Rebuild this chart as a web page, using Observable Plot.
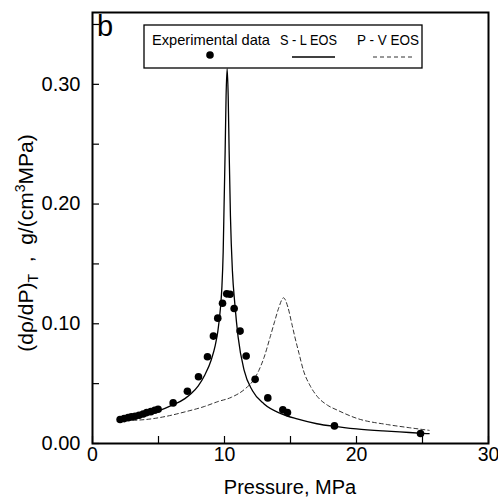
<!DOCTYPE html>
<html><head><meta charset="utf-8">
<script src="https://cdn.jsdelivr.net/npm/d3@7"></script>
<script src="https://cdn.jsdelivr.net/npm/@observablehq/plot@0.6"></script>
<style>body{margin:0;background:#fff} svg{font-family:"Liberation Sans",Arial,sans-serif}</style>
</head><body><div id="chart"></div>
<script>
// Experimental data
const expP = [2.09,2.40,2.70,2.95,3.23,3.53,3.84,4.11,4.42,4.72,4.97,6.11,7.19,8.03,8.71,9.16,9.49,9.85,10.17,10.42,10.73,11.18,11.64,12.32,13.28,14.42,14.77,18.33,24.85];
const expD = [0.0200,0.0208,0.0216,0.0222,0.0228,0.0236,0.0247,0.0258,0.0266,0.0278,0.0286,0.0339,0.0436,0.0558,0.0725,0.0897,0.1047,0.1172,0.1250,0.1247,0.1128,0.0939,0.0731,0.0536,0.0381,0.0281,0.0258,0.0147,0.0083];
// S - L EOS (solid)
const slP = [2.0,3.0,4.0,5.0,6.0,7.0,7.5,8.0,8.5,9.0,9.3,9.5,9.7,9.8,9.9,9.97,10.05,10.12,10.2,10.28,10.35,10.45,10.6,10.78,11.03,11.49,12.12,13.0,14.27,15.5,17.0,18.3,20.0,22.0,24.0,25.5];
const slD = [0.0195,0.0215,0.024,0.0272,0.0318,0.0375,0.042,0.048,0.057,0.070,0.082,0.094,0.114,0.13,0.16,0.20,0.245,0.29,0.313,0.29,0.245,0.19,0.144,0.117,0.089,0.061,0.044,0.033,0.025,0.0205,0.0165,0.0143,0.0122,0.0105,0.0092,0.0082];
// P - V EOS (dashed)
const pvP = [2.0,4.0,5.5,7.0,8.5,9.5,10.5,11.6,12.2,12.6,13.0,13.46,13.8,14.1,14.47,14.8,15.1,15.33,15.65,15.98,16.5,17.05,17.8,18.56,20.08,22.35,24.0,25.5];
const pvD = [0.019,0.020,0.0225,0.0264,0.031,0.035,0.0385,0.046,0.053,0.061,0.072,0.089,0.102,0.113,0.1217,0.114,0.100,0.089,0.075,0.061,0.048,0.039,0.032,0.0278,0.0208,0.0158,0.0132,0.011];
// ticks
const xTickLabels = [0,10,20,30];
const xTicks = [0,5,10,15,20,25,30];
const yTickLabels = [0,0.1,0.2,0.3];
const yTicks = [0,0.05,0.1,0.15,0.2,0.25,0.3,0.35];

const exp = expP.map((p,i)=>({p, d:expD[i]}));
const sl = slP.map((p,i)=>({p, d:slD[i]}));
const pv = pvP.map((p,i)=>({p, d:pvD[i]}));

const W=498,H=499,mL=92,mR=10,mT=12,mB=56;
const fw=W-mL-mR, fh=H-mT-mB, tk=7;

const chart = Plot.plot({
  width:W, height:H, marginLeft:mL, marginRight:mR, marginTop:mT, marginBottom:mB,
  style:{fontFamily:"Liberation Sans, Arial, sans-serif", fontSize:"20px", color:"#000", background:"#fff"},
  x:{domain:[0,30]}, y:{domain:[0,0.36]},
  marks:[
    Plot.tickX(xTicks,{x:d=>d, insetTop:fh-tk, stroke:"#000", strokeWidth:1.2}),
    Plot.tickY(yTicks,{y:d=>d, insetRight:fw-tk, stroke:"#000", strokeWidth:1.2}),
    Plot.axisX(xTickLabels,{tickSize:0, tickPadding:4, tickFormat:d=>String(d), label:null, fontSize:19.5}),
    Plot.axisY(yTickLabels,{tickSize:0, tickPadding:12, tickFormat:d3.format(".2f"), label:null, fontSize:20}),
    Plot.line(pv,{x:"p", y:"d", stroke:"#333", strokeWidth:1, strokeDasharray:"4,3", curve:"monotone-x"}),
    Plot.line(sl,{x:"p", y:"d", stroke:"#000", strokeWidth:1.3, curve:"monotone-x"}),
    Plot.dot(exp,{x:"p", y:"d", r:3.8, fill:"#000", stroke:"none"}),
    Plot.frame({stroke:"#000", strokeWidth:2})
  ]
});
document.getElementById("chart").appendChild(chart);

const svg = d3.select(chart);
const ff = "Liberation Sans, Arial, sans-serif";
// panel letter
svg.append("text").attr("x",97).attr("y",36).attr("text-anchor","start").attr("font-size",29).attr("font-family",ff).text("b");
// x title
svg.append("text").attr("x",mL+fw/2).attr("y",494).attr("text-anchor","middle").attr("font-size",20).attr("font-family",ff).text("Pressure, MPa");
// y title
const yt = svg.append("text").attr("transform","translate(33,243) rotate(-90)").attr("text-anchor","middle").attr("font-size",21).attr("font-family",ff);
yt.append("tspan").text("(dρ/dP)");
yt.append("tspan").attr("font-size",14).attr("dy",5).text("T");
yt.append("tspan").attr("dy",-5).text("  ,  g/(cm");
yt.append("tspan").attr("font-size",14).attr("dy",-8).text("3");
yt.append("tspan").attr("dy",8).text("MPa)");
// legend
const lg = svg.append("g").attr("font-family",ff).attr("font-size",14.5).attr("text-anchor","start");
lg.append("rect").attr("x",144).attr("y",25).attr("width",278).attr("height",43).attr("fill","#fff").attr("stroke","#000").attr("stroke-width",1.3);
lg.append("text").attr("x",152).attr("y",45).attr("textLength",118).attr("lengthAdjust","spacingAndGlyphs").text("Experimental data");
lg.append("text").attr("x",280).attr("y",45).attr("textLength",57).attr("lengthAdjust","spacingAndGlyphs").text("S - L EOS");
lg.append("text").attr("x",357).attr("y",45).attr("textLength",62).attr("lengthAdjust","spacingAndGlyphs").text("P - V EOS");
lg.append("circle").attr("cx",210).attr("cy",55).attr("r",3.8).attr("fill","#000");
lg.append("line").attr("x1",292).attr("x2",335).attr("y1",57).attr("y2",57).attr("stroke","#000").attr("stroke-width",1.3);
lg.append("line").attr("x1",373).attr("x2",413).attr("y1",57).attr("y2",57).attr("stroke","#333").attr("stroke-width",1).attr("stroke-dasharray","4,3");
</script></body></html>
